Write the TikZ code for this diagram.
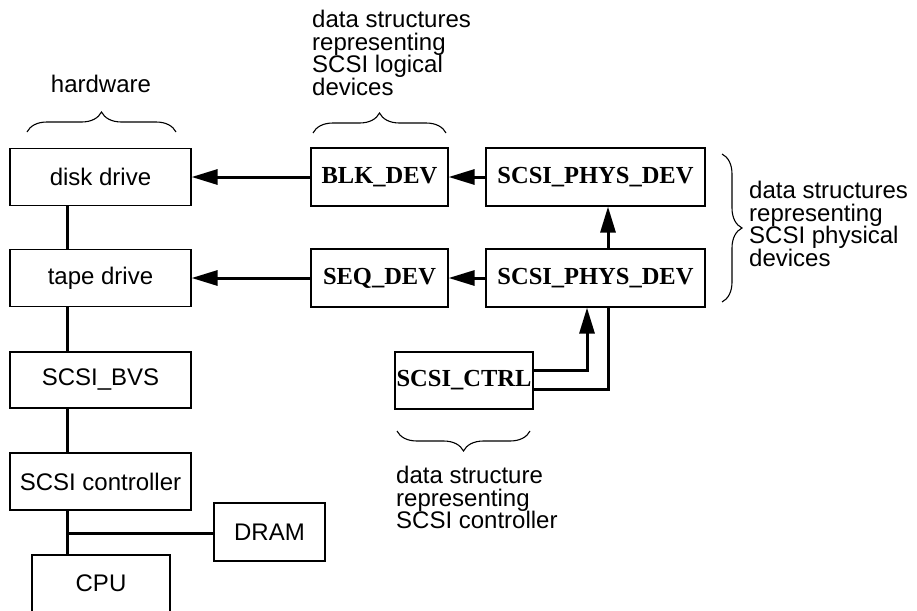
\documentclass[tikz,border=0pt]{standalone}
\usepackage{fontspec}
\setmainfont{Liberation Sans}
\newfontfamily\serifbold{Liberation Serif}
\usetikzlibrary{arrows.meta,calc,decorations.pathreplacing}
\begin{document}
\begin{tikzpicture}[x=1pt,y=-1pt,
  box/.style={draw,line width=1.2pt,inner sep=0pt,font=\fontsize{24}{24}\selectfont},
  hw/.style={box,minimum width=181pt,minimum height=57pt},
  ds/.style={box,minimum height=58pt,font=\fontsize{24.5}{24}\serifbold\bfseries},
  conn/.style={line width=3pt},
  arr/.style={conn,-{Triangle[length=26pt,width=15pt]}},
  brc/.style={decorate,decoration={brace,amplitude=20pt},line width=1.1pt},
  lbl/.style={font=\fontsize{24}{22.7}\selectfont,align=left,inner sep=0pt,anchor=north west}]
\path[use as bounding box] (0,0) rectangle (917,610);
\clip (0,0) rectangle (917,610);
% hardware column
\node[hw] (disk) at (100.5,177) {disk drive};
\node[hw] (tape) at (100.5,278) {tape drive};
\node[hw,minimum height=56pt] (bvs) at (100.5,380) {SCSI\_BVS};
\node[hw] (ctl) at (100.5,481.5) {SCSI controller};
\node[box,minimum width=138pt,minimum height=57pt] (cpu) at (101,583.5) {CPU};
\node[box,minimum width=111pt,minimum height=58pt] (dram) at (269.5,532) {DRAM};
% data structures
\node[ds,minimum width=137pt] (blk) at (379.5,177) {BLK\_DEV};
\node[ds,minimum width=137pt] (seq) at (379.5,278) {SEQ\_DEV};
\node[ds,minimum width=219pt] (phys1) at (595.5,177) {SCSI\_PHYS\_DEV};
\node[ds,minimum width=219pt] (phys2) at (595.5,278) {SCSI\_PHYS\_DEV};
\node[ds,minimum width=138pt,minimum height=57pt] (ctrl) at (464,380.5) {SCSI\_CTRL};
% vertical bus
\coordinate (vx) at (67,0);
\coordinate (bus) at (67,533);
\draw[conn] (disk.south -| vx) -- (tape.north -| vx);
\draw[conn] (tape.south -| vx) -- (bvs.north -| vx);
\draw[conn] (bvs.south -| vx) -- (ctl.north -| vx);
\draw[conn] (ctl.south -| vx) -- (cpu.north -| vx);
\draw[conn] (bus) -- (dram.west |- bus);
% arrows
\draw[arr] (blk.west) -- (disk.east);
\draw[arr] (seq.west) -- (tape.east);
\draw[arr] (phys1.west) -- (blk.east);
\draw[arr] (phys2.west) -- (seq.east);
\coordinate (xa) at (587,0);
\coordinate (xb) at (608,0);
\draw[arr] (phys2.north -| xb) -- (phys1.south -| xb);
\draw[arr] ($(ctrl.east)+(0,-10.5)$) -| (phys2.south -| xa);
\draw[conn] ($(ctrl.east)+(0,9)$) -| (phys2.south -| xb);
% braces and labels
\draw[brc] (27,132) -- (176,132);
\node[font=\fontsize{24}{24}\selectfont,anchor=base,inner sep=0pt] (lhw) at (101,92) {hardware};
\draw[brc] (313,133) -- (446,133);
\node[lbl] (llog) at (312,10) {data structures\\representing\\SCSI logical\\devices};
\draw[brc] (722,154) -- (722,302);
\node[lbl] (lphys) at (749,181) {data structures\\representing\\SCSI physical\\devices};
\draw[brc] (530,431) -- (397,431);
\node[lbl] (lctrl) at (396,466) {data structure\\representing\\SCSI controller};
\end{tikzpicture}
\end{document}
